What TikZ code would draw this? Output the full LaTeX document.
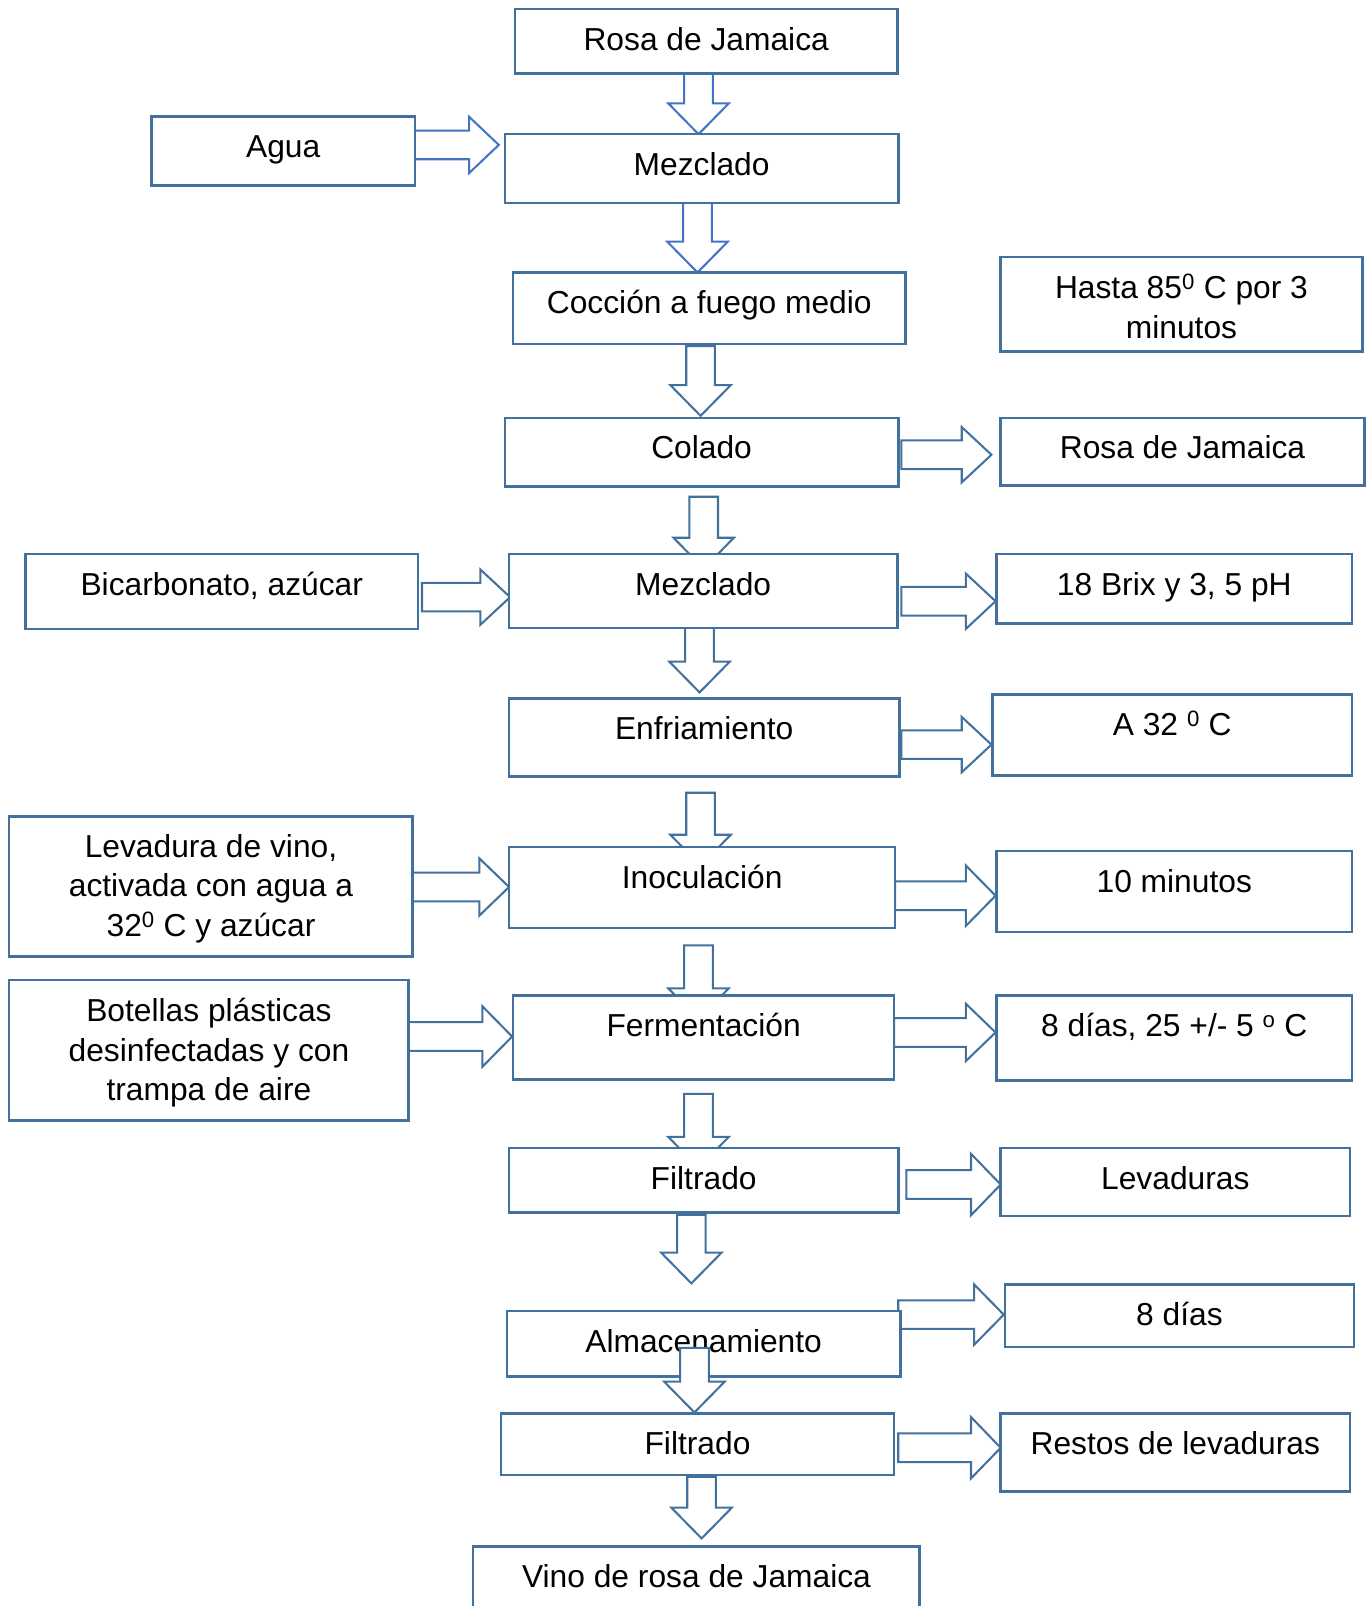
\documentclass[tikz,border=0pt]{standalone}
\usepackage{fontspec}
\setmainfont{Liberation Sans}
\definecolor{boxc}{HTML}{41719C}
\definecolor{arrb}{HTML}{4472C4}
\tikzset{
  box/.style={draw=boxc, line width=2.5pt, fill=white, rectangle, inner sep=0pt},
  lbl/.style={font=\fontsize{31}{38.5}\selectfont, inner sep=0pt, anchor=base},
  mlbl/.style={font=\fontsize{31}{38.5}\selectfont, inner sep=0pt, align=center, anchor=center},
  barr/.style={draw=boxc, line width=2pt, fill=white, line join=miter},
  barrb/.style={barr, draw=arrb},
}
% box: name, x1, y1, x2, y2
\newcommand{\Bx}[5]{\node[box, minimum width={(#4)-(#2)}, minimum height={(#5)-(#3)}] (#1) at ({((#2)+(#4))/2},{((#3)+(#5))/2}) {};}
% box with one-line label
\newcommand{\Bt}[6]{\Bx{#1}{#2}{#3}{#4}{#5}\node[lbl] (#1-t) at ({((#2)+(#4))/2},{(#3)+40}) {#6};}
% block arrow down: style, x, ystart, ytip
\newcommand{\Darr}[4]{\draw[#1] ({#2-14},#3) -- ({#2-14},{#4-30}) -- ({#2-29.5},{#4-30}) -- (#2,#4) -- ({#2+29.5},{#4-30}) -- ({#2+14},{#4-30}) -- ({#2+14},#3) -- cycle;}
% block arrow right: style, y, xstart, xtip, half head
\newcommand{\Rarr}[5]{\draw[#1] (#3,{#2-14}) -- ({#4-29},{#2-14}) -- ({#4-29},{#2-#5}) -- (#4,#2) -- ({#4-29},{#2+#5}) -- ({#4-29},{#2+14}) -- (#3,{#2+14}) -- cycle;}
\begin{document}
\begin{tikzpicture}[x=1pt,y=-1pt]
\fill[white] (0,0) rectangle (1336,1568);
\useasboundingbox (0,0) rectangle (1336,1568);
% vertical block arrows
\Darr{barrb}{682}{72}{131}
\Darr{barrb}{681}{198}{266}
\Darr{barr}{684}{338}{406}
\Darr{barr}{687}{485}{555}
\Darr{barr}{683}{613}{676}
\Darr{barr}{684}{774}{845}
\Darr{barr}{682}{923}{995}
\Darr{barr}{682}{1068}{1140}
\Darr{barr}{675}{1186}{1253}
\Darr{barr}{685}{1442}{1502}
% horizontal block arrows
\Rarr{barrb}{141.5}{405}{487}{27.5}
\Rarr{barr}{444}{880}{968}{27}
\Rarr{barr}{583}{412}{498}{27}
\Rarr{barr}{587}{880}{972}{27}
\Rarr{barr}{727}{880}{968}{27}
\Rarr{barr}{866}{403}{497}{28}
\Rarr{barr}{874.5}{874}{972}{29.5}
\Rarr{barr}{1012}{399}{500}{29.5}
\Rarr{barr}{1008}{873}{972}{28}
\Rarr{barr}{1156.5}{885}{977}{30}
\Rarr{barr}{1283.5}{877}{980}{29.5}
\Rarr{barr}{1413.5}{877}{977}{30}
% boxes
\Bt{rosa}{503}{9}{876}{72}{Rosa de Jamaica}
\Bt{agua}{148}{114}{405}{181}{Agua}
\Bt{mez1}{493}{131}{877}{198}{Mezclado}
\Bt{cocc}{501}{266}{884}{336}{Cocción a fuego medio}
\Bx{hasta}{977}{251}{1330}{343}
\node[mlbl] (hasta-t) at (1153.5,299) {Hasta 85\textsuperscript{0} C por 3\\minutos};
\Bt{colado}{493}{408}{877}{475}{Colado}
\Bt{rosa2}{977}{408}{1332}{474}{Rosa de Jamaica}
\Bt{bicarb}{25}{541}{408}{614}{Bicarbonato, azúcar}
\Bt{mez2}{497}{541}{876}{613}{Mezclado}
\Bt{brix}{973}{541}{1320}{609}{18 Brix y 3, 5 pH}
\Bt{enfr}{497}{682}{878}{758}{Enfriamiento}
\Bt{a32}{969}{678}{1320}{757}{A 32 \textsuperscript{0} C}
\Bx{lev}{9}{797}{403}{934}
\node[mlbl] (lev-t) at (206,867.7) {Levadura de vino,\\activada con agua a\\32\textsuperscript{0} C y azúcar};
\Bt{inoc}{497}{827}{874}{906}{Inoculación}
\Bt{min10}{973}{831}{1320}{910}{10 minutos}
\Bx{bot}{9}{957}{399}{1094}
\node[mlbl] (bot-t) at (204,1027.7) {Botellas plásticas\\desinfectadas y con\\trampa de aire};
\Bt{ferm}{501}{972}{873}{1054}{Fermentación}
\Bt{dias25}{973}{972}{1320}{1055}{8 días, 25 +/- 5 \textsuperscript{o} C}
\Bt{filt1}{497}{1121}{877}{1184}{Filtrado}
\Bt{levad}{977}{1121}{1318}{1187}{Levaduras}
\Bt{alm}{495}{1280}{879}{1344}{Almacenamiento}
\Bt{dias8}{981}{1254}{1322}{1315}{8 días}
\Bt{filt2}{489}{1380}{873}{1440}{Filtrado}
\Bt{restos}{977}{1380}{1318}{1456}{Restos de levaduras}
\Bt{vino}{462}{1510}{898}{1600}{Vino de rosa de Jamaica}
% arrow drawn over Almacenamiento
\Darr{barr}{678}{1316}{1379}
\end{tikzpicture}
\end{document}
